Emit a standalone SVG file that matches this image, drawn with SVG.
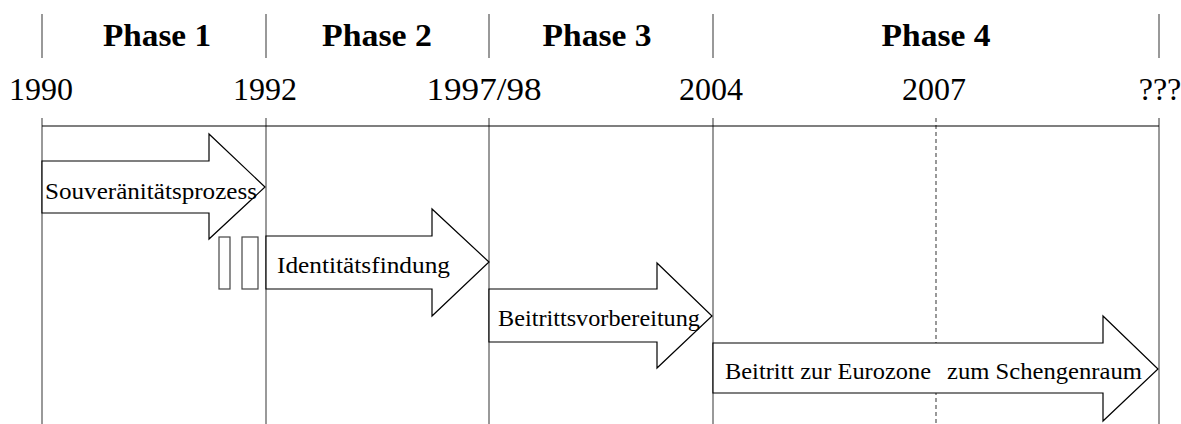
<svg xmlns="http://www.w3.org/2000/svg" width="1181" height="424" viewBox="0 0 1181 424">
<style>
.grid{stroke:#555;stroke-width:1.2;fill:none}
.axis{stroke:#000;stroke-width:1.2;fill:none}
.dash{stroke:#555;stroke-width:1.2;stroke-dasharray:4,3;fill:none}
.arrow{fill:#fff;stroke:#000;stroke-width:1.2}
.box{fill:#fff;stroke:#444;stroke-width:1.2}
.phase{font-family:"Liberation Serif",serif;font-weight:bold;font-size:31px;text-anchor:middle;fill:#000}
.year{font-family:"Liberation Serif",serif;font-size:32px;text-anchor:middle;fill:#000}
.lbl{font-family:"Liberation Serif",serif;font-size:23px;fill:#000}
</style>
<rect width="1181" height="424" fill="#fff"/>
<g id="connectors">
<line class="grid" x1="42" y1="14" x2="42" y2="58"/>
<line class="grid" x1="266" y1="14" x2="266" y2="58"/>
<line class="grid" x1="489" y1="14" x2="489" y2="58"/>
<line class="grid" x1="713" y1="14" x2="713" y2="58"/>
<line class="grid" x1="1159" y1="14" x2="1159" y2="58"/>
<line class="grid" x1="42" y1="118" x2="42" y2="424"/>
<line class="grid" x1="266" y1="118" x2="266" y2="424"/>
<line class="grid" x1="489" y1="118" x2="489" y2="424"/>
<line class="grid" x1="713" y1="118" x2="713" y2="424"/>
<line class="grid" x1="1159" y1="118" x2="1159" y2="424"/>
<line class="dash" x1="936" y1="118" x2="936" y2="424"/>
<line class="axis" x1="42" y1="126" x2="1159" y2="126"/>
</g>
<g id="phases">
<text class="phase" x="157" y="46" textLength="108" lengthAdjust="spacingAndGlyphs">Phase 1</text>
<text class="phase" x="377" y="46" textLength="110" lengthAdjust="spacingAndGlyphs">Phase 2</text>
<text class="phase" x="597" y="46" textLength="109" lengthAdjust="spacingAndGlyphs">Phase 3</text>
<text class="phase" x="936" y="46" textLength="109" lengthAdjust="spacingAndGlyphs">Phase 4</text>
</g>
<g id="years">
<text class="year" x="41" y="100">1990</text>
<text class="year" x="265" y="100">1992</text>
<text class="year" x="484" y="100" textLength="115" lengthAdjust="spacingAndGlyphs">1997/98</text>
<text class="year" x="711" y="100">2004</text>
<text class="year" x="934" y="100">2007</text>
<text class="year" x="1160" y="100">???</text>
</g>
<g id="arrow1">
<polygon class="arrow" points="42,161 209,161 209,134 265,187 209,239 209,213 42,213"/>
<text class="lbl" x="45" y="199" textLength="212" lengthAdjust="spacingAndGlyphs">Souveränitätsprozess</text>
</g>
<g id="pause">
<rect class="box" x="219" y="237" width="11" height="52"/>
<rect class="box" x="242" y="237" width="16" height="52"/>
</g>
<g id="arrow2">
<polygon class="arrow" points="266,236 432,236 432,209 489,262 432,316 432,289 266,289"/>
<text class="lbl" x="277" y="273" textLength="173" lengthAdjust="spacingAndGlyphs">Identitätsfindung</text>
</g>
<g id="arrow3">
<polygon class="arrow" points="489,289 657,289 657,263 712,316 657,368 657,342 489,342"/>
<text class="lbl" x="498" y="326" textLength="202" lengthAdjust="spacingAndGlyphs">Beitrittsvorbereitung</text>
</g>
<g id="arrow4">
<polygon class="arrow" points="713,343 1103,343 1103,316 1158,369 1103,421 1103,393 713,393"/>
<text class="lbl" x="725" y="379" textLength="206" lengthAdjust="spacingAndGlyphs">Beitritt zur Eurozone</text>
<text class="lbl" x="947" y="379" textLength="195" lengthAdjust="spacingAndGlyphs">zum Schengenraum</text>
</g>
</svg>
